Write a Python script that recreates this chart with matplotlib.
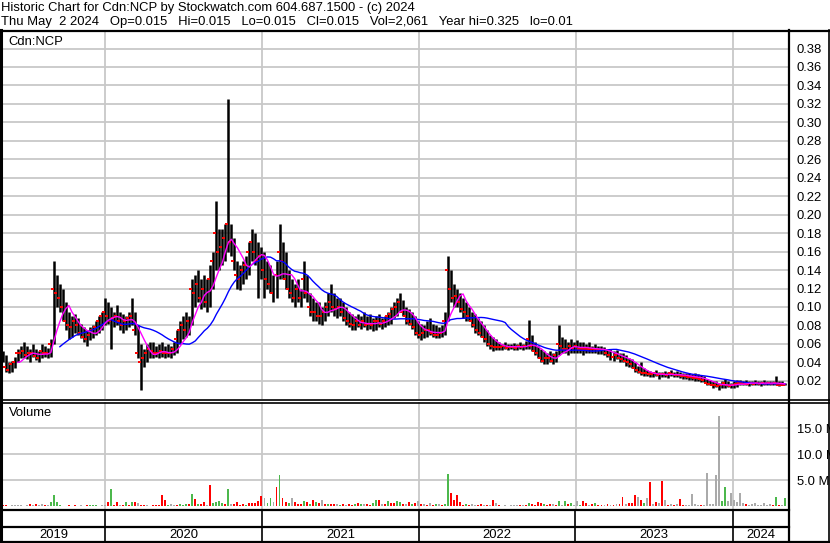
import pandas as pd
import matplotlib
matplotlib.use('Agg')
import matplotlib.pyplot as plt
import matplotlib.dates as mdates
from matplotlib.lines import Line2D

plt.rcParams['font.family'] = ['Liberation Sans', 'DejaVu Sans']

W, H = 830, 543

# weekly bars, May 2019 - May 2024
weeks = pd.date_range('2019-05-08', periods=261, freq='W-WED')

hi = [
    .052, .048, .040, .042, .046, .055, .058, .062, .058, .055,
    .060, .055, .052, .060, .058, .056, .065, .150, .135, .125,
    .120, .105, .095, .090, .092, .088, .082, .078, .075, .078,
    .080, .085, .090, .095, .110, .105, .100, .095, .102, .095,
    .092, .090, .095, .110, .095, .080, .060, .055, .060, .062,
    .062, .058, .060, .062, .058, .060, .058, .062, .075, .085,
    .090, .095, .090, .130, .135, .140, .130, .135, .130, .145,
    .160, .215, .185, .185, .190, .325, .190, .175, .150, .145,
    .150, .155, .170, .185, .180, .170, .165, .160, .150, .145,
    .135, .150, .190, .170, .160, .140, .130, .125, .130, .120,
    .150, .135, .115, .110, .105, .105, .100, .105, .115, .125,
    .115, .110, .110, .105, .100, .095, .092, .090, .092, .090,
    .095, .090, .092, .088, .090, .092, .088, .090, .095, .100,
    .105, .110, .115, .108, .100, .098, .095, .090, .085, .082,
    .080, .085, .088, .082, .080, .078, .080, .095, .155, .140,
    .125, .120, .115, .110, .105, .100, .095, .092, .088, .085,
    .080, .075, .070, .068, .065, .062, .060, .062, .060, .060,
    .061, .060, .062, .060, .063, .086, .070, .062, .058, .055,
    .052, .050, .052, .050, .052, .080, .068, .065, .062, .065,
    .062, .064, .062, .062, .060, .062, .058, .060, .058, .058,
    .057, .055, .054, .052, .053, .050, .050, .048, .045, .044,
    .040, .036, .040, .034, .032, .031, .030, .032, .030, .030,
    .031, .030, .032, .030, .031, .030, .029, .028, .029, .027,
    .028, .027, .026, .025, .022, .021, .020, .020, .018, .020,
    .022, .020, .018, .020, .021, .021, .020, .021, .020, .020,
    .021, .020, .020, .021, .020, .020, .020, .025, .020, .020,
    .018,
]
lo = [
    .040, .030, .028, .030, .034, .040, .045, .045, .044, .040,
    .046, .043, .040, .045, .046, .045, .046, .060, .100, .095,
    .085, .075, .065, .068, .072, .070, .066, .062, .058, .064,
    .066, .070, .072, .075, .080, .082, .055, .078, .080, .075,
    .072, .075, .078, .080, .070, .045, .010, .035, .040, .045,
    .045, .046, .045, .046, .045, .046, .045, .048, .050, .060,
    .065, .068, .070, .080, .100, .105, .098, .100, .095, .100,
    .120, .140, .140, .145, .150, .160, .155, .140, .120, .118,
    .125, .130, .135, .150, .145, .110, .130, .110, .120, .115,
    .105, .110, .130, .130, .120, .110, .105, .100, .105, .100,
    .110, .105, .090, .085, .085, .082, .080, .085, .090, .095,
    .090, .088, .090, .085, .080, .078, .075, .075, .078, .076,
    .078, .075, .076, .074, .075, .078, .076, .078, .080, .082,
    .088, .090, .095, .090, .082, .080, .076, .070, .066, .064,
    .066, .068, .070, .068, .066, .066, .068, .070, .085, .105,
    .100, .100, .095, .088, .085, .085, .078, .072, .070, .068,
    .062, .058, .055, .052, .053, .053, .053, .054, .053, .054,
    .053, .053, .054, .053, .054, .055, .052, .048, .045, .040,
    .038, .038, .040, .038, .040, .048, .050, .050, .048, .050,
    .050, .050, .050, .048, .050, .050, .050, .050, .049, .049,
    .048, .046, .043, .042, .044, .040, .040, .036, .035, .034,
    .030, .028, .026, .025, .025, .024, .024, .025, .022, .024,
    .024, .023, .025, .024, .024, .023, .022, .022, .021, .021,
    .020, .020, .019, .019, .016, .015, .012, .013, .010, .012,
    .012, .013, .012, .012, .013, .015, .015, .015, .014, .015,
    .015, .015, .014, .015, .015, .015, .015, .015, .014, .015,
    .015,
]
cl = [
    .045, .035, .032, .038, .040, .050, .050, .052, .048, .050,
    .050, .047, .045, .052, .050, .050, .060, .120, .115, .110,
    .100, .085, .080, .078, .085, .080, .072, .068, .065, .070,
    .075, .078, .085, .090, .095, .090, .085, .088, .090, .085,
    .080, .085, .088, .090, .075, .050, .040, .045, .050, .055,
    .052, .050, .050, .052, .050, .050, .050, .055, .065, .075,
    .080, .075, .085, .120, .115, .125, .110, .120, .105, .130,
    .150, .180, .160, .165, .175, .190, .170, .150, .135, .130,
    .140, .145, .160, .170, .160, .150, .155, .140, .130, .125,
    .115, .135, .160, .150, .130, .120, .115, .110, .120, .110,
    .130, .115, .100, .095, .095, .090, .090, .095, .100, .105,
    .100, .098, .100, .095, .088, .085, .082, .080, .085, .080,
    .085, .080, .082, .080, .085, .085, .082, .085, .090, .092,
    .098, .100, .105, .095, .090, .085, .082, .078, .072, .070,
    .072, .075, .075, .072, .070, .070, .072, .085, .140, .120,
    .110, .112, .105, .098, .095, .090, .085, .080, .075, .072,
    .068, .065, .060, .058, .057, .057, .057, .058, .056, .057,
    .057, .056, .058, .057, .058, .065, .058, .052, .050, .045,
    .042, .045, .045, .042, .048, .060, .058, .055, .055, .058,
    .056, .058, .055, .055, .055, .055, .054, .055, .054, .053,
    .053, .050, .048, .046, .048, .045, .044, .042, .040, .038,
    .034, .032, .030, .028, .028, .027, .027, .028, .026, .027,
    .027, .026, .028, .027, .026, .026, .025, .025, .024, .024,
    .023, .023, .022, .021, .018, .017, .015, .016, .014, .015,
    .018, .015, .014, .016, .017, .018, .018, .017, .017, .018,
    .017, .018, .017, .018, .017, .018, .017, .018, .016, .016,
    .015,
]
# volume in millions of shares
vol = [
    .25, .25, .1, .2, .2, .2, .2, .15, .2, .5,
    .3, .5, .2, .5, .25, .25, .9, 2.2, .9, .2,
    .1, .1, .2, .15, .2, .1, .2, .15, .2, .2,
    .25, .2, .15, .2, .3, .9, 3.3, .2, .9, .2,
    .2, .9, .3, .9, .9, .6, .3, .2, .2, .1,
    .2, .3, .2, 2.2, 1.2, .3, .5, .2, .3, .4,
    .3, .4, .5, 2.4, 1.4, .4, .5, .9, .3, 4.0,
    .6, .9, 1.1, .7, .5, 3.3, .5, .4, .9, .3,
    .5, .3, .6, .7, .7, 1.0, 2.0, 1.5, .6, 1.5,
    .9, 3.8, 6.0, 1.6, .9, .6, 1.5, .9, .5, .4,
    1.0, .9, .4, 1.3, .9, .7, 1.3, .5, .4, .5,
    .4, .5, .3, .4, .3, .4, .3, .5, .7, .4,
    .5, .4, .3, .6, 1.2, 1.2, .4, .5, 1.0, .7,
    .6, 1.0, .9, .4, .5, .9, .4, .6, 1.0, .4,
    .4, .3, .7, .3, .4, .4, .3, .4, 6.2, 2.5,
    1.3, 2.2, .9, .3, .4, .2, .5, .3, .2, .4,
    .2, .2, .2, 1.2, .7, .2, .1, .2, .1, .2,
    .2, .2, .2, .3, .2, .6, .5, .3, .9, .7,
    .5, .3, .5, .4, .3, 1.0, .3, 1.0, .4, .7,
    .3, 1.0, .3, 1.0, .7, .3, .5, .7, .3, .2,
    .2, .4, .3, .3, .5, .4, 1.7, .4, .6, .7,
    2.1, 1.7, 1.2, .6, 1.5, 4.7, .5, .8, .6, 4.9,
    1.2, .3, .4, .3, .5, 1.4, .3, .2, .3, 2.4,
    .5, .3, .3, .3, 6.4, .5, .4, 6.0, 17.3, 1.0,
    3.8, 1.0, 2.5, 1.2, .8, 2.5, .6, .4, .3, .4,
    .7, .3, .3, .6, .3, .4, .2, 1.8, .3, .3,
    1.5,
]
# r = down, g = up, k = unchanged
vol_dir = (
    "rrkkkkkgkr" "krkkrkgggg" "rrrkrrkrrg" "gggkkrgrrk" "rgrgrkrrkr"
    "rrrrrgkkrg" "ggrgrgrrkr" "ggggrgkrrr" "rgrrrrrkgg" "krgrrgkrrr"
    "grgrgrkrgr" "rkgrkrrgrg" "krrggrkrgr" "rggrkrgrkr" "krkrgkrggr"
    "rrrrgrkkrr" "krkrkrkkrk" "kkrkrgrrrr" "grrkrgkgrg" "kkgrrkrgrr"
    "krkrkrrkrr" "rkrgkrkrkr" "krkrkrrkkk" "kkrkkkkkkg" "gkkkkkkrkk"
    "kkkkkkrgrk" "g"
)

years = ['2019', '2020', '2021', '2022', '2023', '2024']
price_ticks = [0.02, 0.04, 0.06, 0.08, 0.10, 0.12, 0.14, 0.16, 0.18, 0.20,
               0.22, 0.24, 0.26, 0.28, 0.30, 0.32, 0.34, 0.36, 0.38]
vol_ticks = [5, 10, 15]
vol_labels = ['5.0 M', '10.0 M', '15.0 M']

title1 = 'Historic Chart for Cdn:NCP by Stockwatch.com 604.687.1500 - (c) 2024'
title2 = ('Thu May  2 2024   Op=0.015   Hi=0.015   Lo=0.015   Cl=0.015   '
          'Vol=2,061   Year hi=0.325   lo=0.01')

colors = {'r': '#ff0000', 'g': '#4cb84c', 'k': '#aaaaaa'}
grid_c = '#c8c8c8'
fs = 9.4


def fx(px):
    return px / W


def fy(py):
    return 1 - py / H


fig = plt.figure(figsize=(W / 100, H / 100), dpi=100)
fig.patch.set_facecolor('white')

ax = fig.add_axes([fx(2), fy(399), fx(789) - fx(2), fy(31) - fy(399)])
axv = fig.add_axes([fx(2), fy(509), fx(789) - fx(2), fy(402) - fy(509)])

# date scale: 157 px per year, 2020 starts at x=105
d2020 = mdates.date2num(pd.Timestamp('2020-01-01'))
d2024 = mdates.date2num(pd.Timestamp('2024-01-01'))
ppd = (733 - 105) / (d2024 - d2020)
xl = (d2020 - (105 - 2) / ppd, d2020 + (789 - 105) / ppd)
year_starts = [pd.Timestamp(f'{y}-01-01') for y in years[1:]]

for a in (ax, axv):
    a.set_xlim(xl)
    for s in a.spines.values():
        s.set_visible(False)
    a.set_xticks([])
    for ys in year_starts:
        a.axvline(ys, color=grid_c, lw=1.3, zorder=0)
    a.tick_params(axis='y', left=False, right=False, labelleft=False,
                  labelright=True, pad=2.0, labelsize=fs)
    a.grid(axis='y', color=grid_c, lw=1.3, zorder=0)

# price panel
ax.set_ylim(0.0003, 0.399)
ax.set_yticks(price_ticks)
ax.set_yticklabels([f'{t:.2f}' for t in price_ticks])
ax.vlines(weeks, lo, hi, color='black', lw=1.8, zorder=2)
ax.plot(weeks, cl, ls='none', marker=0, ms=2.2, mew=1.4, color='red', zorder=3)
close = pd.Series(cl, index=weeks)
ax.plot(weeks, close.rolling(20).mean(), color='#0000ff', lw=1.0, zorder=4)
ax.plot(weeks, close.rolling(6).mean(), color='#ff00ff', lw=1.0, zorder=5)
ax.text(6 / 787, 1 - 11 / 368, 'Cdn:NCP', transform=ax.transAxes,
        fontsize=fs, va='center', ha='left')

# volume panel
axv.set_ylim(-0.52, 20.06)
axv.set_yticks(vol_ticks)
axv.set_yticklabels(vol_labels)
axv.bar(weeks, vol, width=4.5, color=[colors[c] for c in vol_dir], zorder=2)
axv.text(7 / 787, 1 - 11 / 107, 'Volume', transform=axv.transAxes,
         fontsize=fs, va='center', ha='left')

# title
fig.text(fx(1), fy(8), title1, fontsize=fs, va='center', ha='left')
fig.text(fx(1), fy(22), title2, fontsize=fs, va='center', ha='left')

# year labels in the date band
edges = [2] + [105, 262, 419, 575, 733] + [789]
for i, y in enumerate(years):
    fig.text(fx((edges[i] + edges[i + 1]) / 2), fy(534.5), y,
             fontsize=fs, ha='center', va='center')


def hline(y, x0, x1, lw=1.5):
    fig.add_artist(Line2D([fx(x0), fx(x1)], [fy(y), fy(y)], color='black',
                          lw=lw, transform=fig.transFigure))


def vline(x, y0, y1, lw=1.5):
    fig.add_artist(Line2D([fx(x), fx(x)], [fy(y0), fy(y1)], color='black',
                          lw=lw, transform=fig.transFigure))


hline(30.5, 0, W, 1.6)
hline(399.5, 0, W, 1.2)
hline(402.5, 0, W, 1.2)
hline(509.5, 0, 789, 1.6)
hline(527, 0, 789, 1.6)
hline(542, 0, W, 1.6)
vline(1, 30, H, 2.2)
vline(789, 30, H, 1.6)
vline(829.3, 30, H, 1.2)
for xe in edges[1:-1]:
    vline(xe, 509.5, 542, 1.2)

fig.savefig('out.png', dpi=100, facecolor='white')
